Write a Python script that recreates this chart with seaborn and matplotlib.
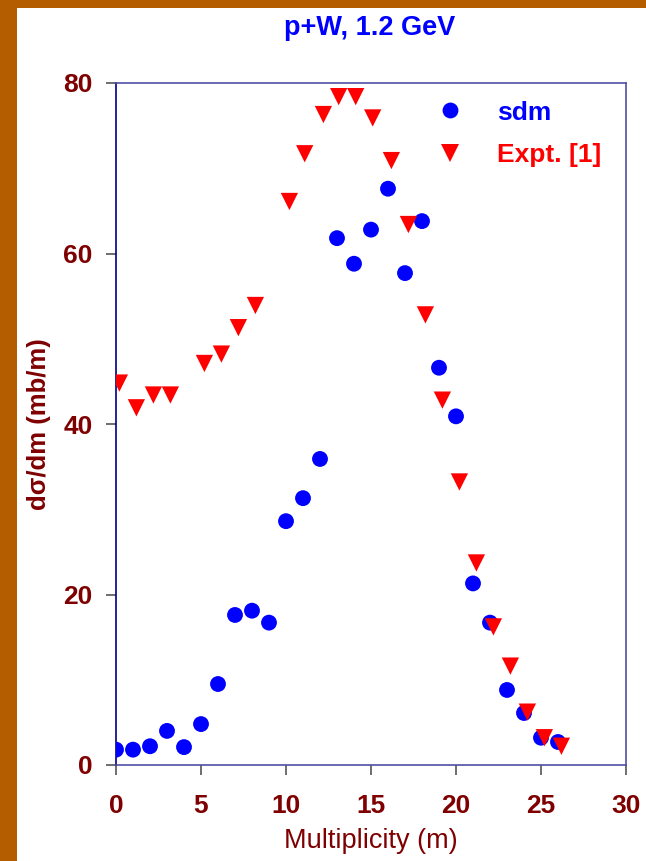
import numpy as np
import pandas as pd
import matplotlib
matplotlib.use("Agg")
import matplotlib.pyplot as plt
import seaborn as sns
from matplotlib.patches import Rectangle

# ---- data ----
sdm_m = list(range(0, 27))
sdm_val = [1.8, 1.8, 2.2, 4.0, 2.1, 4.8, 9.5, 17.6, 18.1, 16.7, 28.6, 31.3, 35.9,
           61.8, 58.8, 62.8, 67.6, 57.7, 63.8, 46.6, 40.9, 21.3, 16.7, 8.8, 6.1, 3.2, 2.7]

expt_m = [0.2, 1.2, 2.2, 3.2, 5.2, 6.2, 7.2, 8.2, 10.2, 11.1, 12.2, 13.1, 14.1, 15.1,
          16.2, 17.2, 18.2, 19.2, 20.2, 21.2, 22.2, 23.2, 24.2, 25.2, 26.2]
expt_val = [44.8, 41.9, 43.4, 43.4, 47.1, 48.2, 51.3, 53.9, 66.1, 71.7, 76.3, 78.4, 78.4,
            75.9, 70.9, 63.4, 52.8, 42.8, 33.2, 23.7, 16.2, 11.6, 6.2, 3.2, 2.2]

series_names = ["sdm", "Expt. [1]"]
x_ticks = [0, 5, 10, 15, 20, 25, 30]
y_ticks = [0, 20, 40, 60, 80]

df = pd.concat([
    pd.DataFrame({"m": sdm_m, "val": sdm_val, "series": series_names[0]}),
    pd.DataFrame({"m": expt_m, "val": expt_val, "series": series_names[1]}),
], ignore_index=True)

sns.set_theme(style="white")
plt.rcParams["font.family"] = ["Liberation Sans", "DejaVu Sans"]

W, H = 646, 861
fig = plt.figure(figsize=(W / 100, H / 100), dpi=100)
fig.patch.set_facecolor("#B35D00")
fig.patches.append(Rectangle((17 / W, 0), 1 - 17 / W, 1 - 8 / H, transform=fig.transFigure,
                             facecolor="white", edgecolor="none", zorder=-10))

AX_L, AX_R, AX_T, AX_B = 116, 626, 83, 765
ax = fig.add_axes([AX_L / W, 1 - AX_B / H, (AX_R - AX_L) / W, (AX_B - AX_T) / H])
ax.set_zorder(1)
ax.set_facecolor("white")

dark_red = "#7F0000"
palette = {series_names[0]: "#0000FF", series_names[1]: "#FF0000"}
markers = {series_names[0]: "o", series_names[1]: "v"}
msizes = {series_names[0]: 130, series_names[1]: 155}

sns.scatterplot(data=df, x="m", y="val", hue="series", style="series", size="series",
                palette=palette, markers=markers, sizes=msizes, linewidth=0, ax=ax,
                legend=True, zorder=3)

ax.set_xlim(0, 30)
ax.set_ylim(0, 80)
ax.set_xticks(x_ticks)
ax.set_yticks(y_ticks)
ax.set_xticklabels([str(t) for t in x_ticks], fontsize=19, fontweight="bold", color=dark_red)
ax.set_yticklabels([str(t) for t in y_ticks], fontsize=19, fontweight="bold", color=dark_red)
ax.tick_params(axis="x", direction="out", length=7, width=1.2, color="#555555", pad=14, bottom=True)
ax.tick_params(axis="y", direction="out", length=7, width=1.2, color="#555555", pad=10, left=True)

for side in ["top", "right", "bottom"]:
    ax.spines[side].set_color("#5050A8")
    ax.spines[side].set_linewidth(1.2)
ax.spines["left"].set_color("#000080")
ax.spines["left"].set_linewidth(1.2)

ax.set_xlabel("Multiplicity (m)", fontsize=19.5, color=dark_red)
ax.xaxis.set_label_coords(0.5, (AX_B - 828) / (AX_B - AX_T))
ax.set_ylabel("d\u03c3/dm (mb/m)", fontsize=18.5, fontweight="bold", color=dark_red)
ax.yaxis.set_label_coords((51 - AX_L) / (AX_R - AX_L), 0.5)

fig.text(370 / W, 1 - 35 / H, "p+W, 1.2 GeV", ha="center", va="baseline",
         fontsize=19.5, fontweight="bold", color="#0000FF")

leg = ax.legend(loc="upper left", bbox_to_anchor=((413 - AX_L) / (AX_R - AX_L), 1.009),
                frameon=False, fontsize=19, handlelength=1.0, handletextpad=1.29,
                labelspacing=0.7, markerscale=1.0, borderpad=0.4)
for txt, name in zip(leg.get_texts(), series_names):
    txt.set_color(palette[name])
    txt.set_fontweight("bold")

fig.savefig("out.png", dpi=100, facecolor=fig.get_facecolor())
